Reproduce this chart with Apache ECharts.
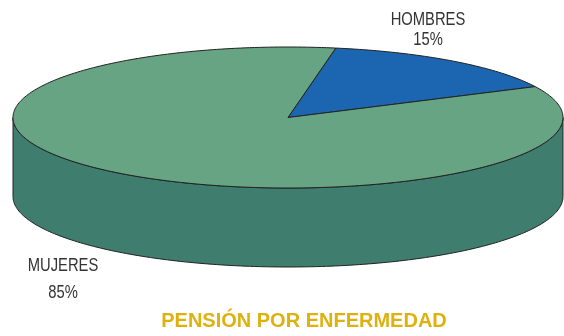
<!DOCTYPE html>
<html>
<head>
<meta charset="utf-8">
<script src="https://cdn.jsdelivr.net/npm/echarts@6/dist/echarts.min.js"></script>
<style>
  html, body { margin: 0; padding: 0; background: #ffffff; }
  #chart { width: 564px; height: 336px; }
</style>
</head>
<body>
<div id="chart"></div>
<script>
// Pension recipients by sex
const categories = ['HOMBRES', 'MUJERES'];
const values = [15, 85];
const chartTitle = 'PENSIÓN POR ENFERMEDAD';

const topColors = ['#1c66b1', '#67a483'];
const sideColors = ['#174f8a', '#3f7d6f'];

// Disc geometry (tilted pie drawn as an ellipse with a visible rim)
const disc = { cx: 288, cy: 117.5, rx: 275, ry: 70.5, depth: 79, startAngle: 80 };
const total = values.reduce((a, b) => a + b, 0);

// slice i spans counter-clockwise angles [end, start] (degrees), drawn clockwise
function sliceRange(i) {
  let before = 0;
  for (let k = 0; k < i; k++) before += values[k];
  const start = disc.startAngle - before / total * 360;
  const end = start - values[i] / total * 360;
  return [end, start];
}

function pt(deg, dy) {
  const r = deg * Math.PI / 180;
  return [disc.cx + disc.rx * Math.cos(r), disc.cy - disc.ry * Math.sin(r) + (dy || 0)];
}

function arcPoints(a1, a2, dy) {
  const pts = [];
  const n = Math.max(2, Math.ceil(Math.abs(a2 - a1) / 1));
  for (let j = 0; j <= n; j++) pts.push(pt(a1 + (a2 - a1) * j / n, dy));
  return pts;
}

function renderTop(params, api) {
  const i = params.dataIndex;
  const [a1, a2] = sliceRange(i);
  const pts = [[disc.cx, disc.cy]].concat(arcPoints(a1, a2, 0));
  return {
    type: 'polygon',
    shape: { points: pts },
    style: { fill: topColors[i], stroke: '#222222', lineWidth: 1, lineJoin: 'round' }
  };
}

function renderSide(params, api) {
  const i = params.dataIndex;
  const [a1, a2] = sliceRange(i);
  const children = [];
  // visible rim = front half of the ellipse, angles in [-180, 0] (+ k*360)
  for (let k = -2; k <= 2; k++) {
    const lo = Math.max(a1, -180 + 360 * k);
    const hi = Math.min(a2, 0 + 360 * k);
    if (hi - lo > 0.01) {
      const upper = arcPoints(lo, hi, 0);
      const lower = arcPoints(hi, lo, disc.depth);
      children.push({
        type: 'polygon',
        shape: { points: upper.concat(lower) },
        style: { fill: sideColors[i], stroke: '#222222', lineWidth: 1, lineJoin: 'round' }
      });
    }
  }
  return { type: 'group', children: children };
}

const labelFont = '18px "Liberation Sans", Arial, sans-serif';
const pct = values.map(v => Math.round(v / total * 100) + '%');

// narrow-looking slice labels (horizontally condensed text)
function label(text, x, y) {
  return {
    type: 'text', x: x, y: y, scaleX: 0.82, originX: 0, originY: 0,
    style: { text: text, fill: '#333333', font: labelFont, textAlign: 'center', textVerticalAlign: 'middle' }
  };
}

const chart = echarts.init(document.getElementById('chart'), null, { renderer: 'canvas' });
chart.setOption({
  animation: false,
  backgroundColor: '#ffffff',
  series: [
    {
      type: 'custom',
      coordinateSystem: 'none',
      renderItem: renderSide,
      data: values,
      z: 1,
      silent: true
    },
    {
      type: 'custom',
      coordinateSystem: 'none',
      renderItem: renderTop,
      data: values,
      z: 2,
      silent: true
    }
  ],
  graphic: [
    label(categories[0], 428, 20),
    label(pct[0], 428, 40),
    label(categories[1], 63, 266),
    label(pct[1], 63, 293),
    {
      type: 'text', x: 304, y: 321,
      style: {
        text: chartTitle, fill: '#deb10f',
        font: 'bold 20px "Liberation Sans", Arial, sans-serif',
        textAlign: 'center', textVerticalAlign: 'middle'
      }
    }
  ]
});
</script>
</body>
</html>
